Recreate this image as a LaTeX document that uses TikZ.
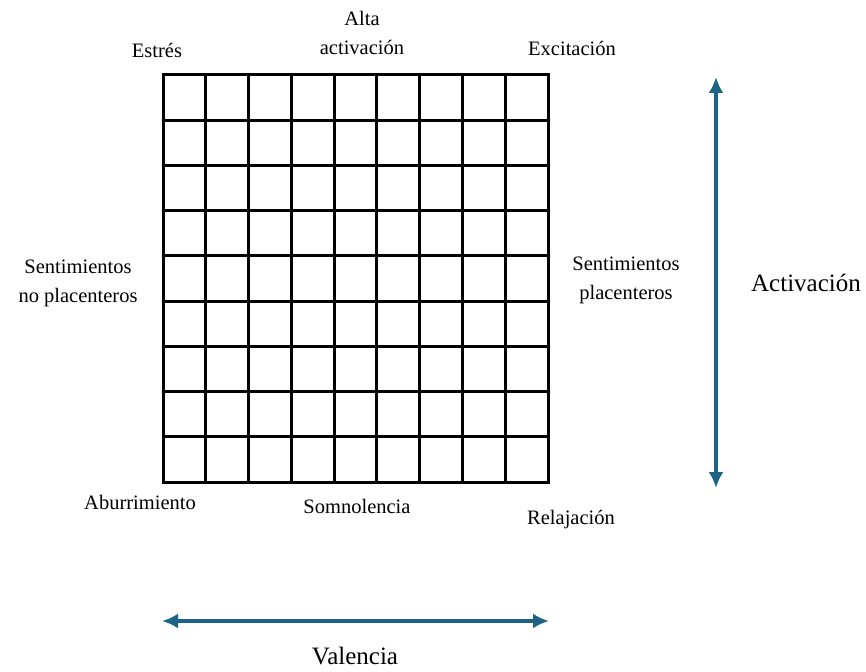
\documentclass[tikz,border=0pt]{standalone}
\usepackage{fontspec}
\setmainfont{Liberation Serif}
\usetikzlibrary{arrows.meta,calc}
\definecolor{axisblue}{RGB}{29,99,133}

\begin{document}
\begin{tikzpicture}[x=1pt,y=-1pt,>={Latex[length=16pt,width=15pt]}]
  \useasboundingbox (0,0) rectangle (866,671);
  \tikzset{lbl/.style={align=center,inner sep=0pt,font=\fontsize{20.5}{29}\selectfont},
    big/.style={inner sep=0pt,font=\fontsize{25}{30}\selectfont}}
  \coordinate (nw) at (163,75);
  \coordinate (se) at (548,482);
  % grid of 9 x 9 cells
  \foreach \i in {0,...,9} {
    \draw[line width=3pt,line cap=rect] ($(nw)!\i/9!(nw-|se)$) -- ($(nw|-se)!\i/9!(se)$);
    \draw[line width=3pt,line cap=rect] ($(nw)!\i/9!(nw|-se)$) -- ($(nw-|se)!\i/9!(se)$);
  }
  \node[lbl] (estres) at (157,50) {Estrés};
  \node[lbl] (alta) at (362,33) {Alta\\activación};
  \node[lbl] (excit) at (572,48) {Excitación};
  \node[lbl] (noplac) at (78,283) {Sentimientos\\no placenteros};
  \node[lbl] (plac) at (626,280) {Sentimientos\\placenteros};
  \node[lbl] (aburr) at (140,502) {Aburrimiento};
  \node[lbl] (somno) at (357,506) {Somnolencia};
  \node[lbl] (relaj) at (571,520) {Relajación};
  \node[big] (activ) at (806,283) {Activación};
  \node[big] (valen) at (355,656) {Valencia};
  % axes
  \coordinate (atop) at (716,77);
  \coordinate (abot) at (716,488);
  \coordinate (vl) at (162,621);
  \coordinate (vr) at (549,621);
  \draw[<->,axisblue,line width=3.5pt] (atop) -- (abot);
  \draw[<->,axisblue,line width=3.5pt] (vl) -- (vr);
\end{tikzpicture}
\end{document}
